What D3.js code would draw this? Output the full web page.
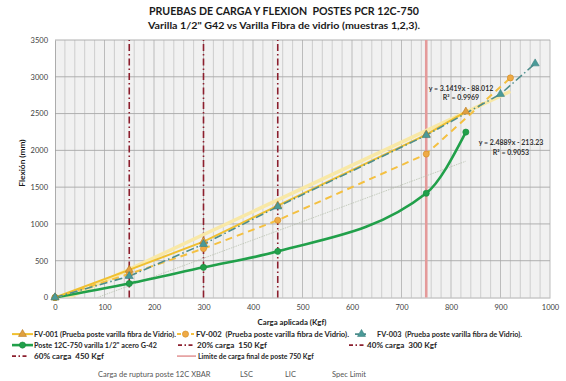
<!DOCTYPE html>
<html>
<head>
<meta charset="utf-8">
<script src="https://cdn.jsdelivr.net/npm/d3@7"></script>
<style>
	body { margin: 0; background: #fff; }
	svg { display: block; font-family: Lato, "Open Sans", sans-serif; }
	text { white-space: pre; }
</style>
</head>
<body>
<div id="chart"></div>
<script>

// load (Kgf) vs deflection (mm)
const fv001X = [ 0, 150, 300, 450, 750, 830 ];
const fv001Y = [ 0, 375, 760, 1250, 2215, 2525 ];

const fv002X = [ 0, 150, 300, 450, 750, 920 ];
const fv002Y = [ 0, 320, 665, 1050, 1950, 2985 ];

const fv003X = [ 0, 150, 300, 450, 750, 900, 970 ];
const fv003Y = [ 0, 290, 725, 1235, 2205, 2765, 3180 ];

const posteX = [ 0, 150, 300, 450, 750, 830 ];
const posteY = [ 0, 190, 410, 627, 1417, 2248 ];

const refLoads = [ 150, 300, 450 ];
const limitLoad = 750;

// trendlines as printed on the chart
const trendA = { slope: 3.1419, icpt: -88.012, x0: 0, x1: 920, eq: "y = 3.1419x - 88.012", r2: "R² = 0.9969" };
const trendB = { slope: 2.4889, icpt: -213.23, x0: 0, x1: 830, eq: "y = 2.4889x - 213.23", r2: "R² = 0.9053" };

const xTicks = [ 0, 100, 200, 300, 400, 500, 600, 700, 800, 900, 1000 ];
const yTicks = [ 0, 500, 1000, 1500, 2000, 2500, 3000, 3500 ];

const title = "PRUEBAS DE CARGA Y FLEXION  POSTES PCR 12C-750";
const subtitle = "Varilla 1/2\" G42 vs Varilla Fibra de vidrio (muestras 1,2,3).";
const xTitle = "Carga aplicada (Kgf)";
const yTitle = "Flexión (mm)";

///////////////////////////////////////////////////////////////////////

const width = 566, height = 381;
const m = { left: 55, right: 16, top: 40, bottom: 83.5 };

const svg = d3.select( "#chart" ).append( "svg" )
	.attr( "width", width )
	.attr( "height", height );

const x = d3.scaleLinear().domain( [ 0, 1000 ] ).range( [ m.left, width - m.right ] );
const y = d3.scaleLinear().domain( [ 0, 3500 ] ).range( [ height - m.bottom, m.top ] );

const zip = ( xs, ys ) => xs.map( ( v, i ) => [ v, ys[ i ] ] );

// titles
svg.append( "text" )
	.attr( "x", 284 ).attr( "y", 15 )
	.attr( "text-anchor", "middle" )
	.attr( "font-size", 11.5 ).attr( "font-weight", 700 )
	.attr( "textLength", 270 ).attr( "lengthAdjust", "spacingAndGlyphs" )
	.attr( "fill", "#1a1a1a" )
	.text( title );

svg.append( "text" )
	.attr( "x", 284 ).attr( "y", 29 )
	.attr( "text-anchor", "middle" )
	.attr( "font-size", 10 ).attr( "font-weight", 700 )
	.attr( "textLength", 272 ).attr( "lengthAdjust", "spacingAndGlyphs" )
	.attr( "fill", "#1a1a1a" )
	.text( subtitle );

// plot background + grid
svg.append( "rect" )
	.attr( "x", x( 0 ) ).attr( "y", y( 3500 ) )
	.attr( "width", x( 1000 ) - x( 0 ) ).attr( "height", y( 0 ) - y( 3500 ) )
	.attr( "fill", "#f1f1f1" );

svg.append( "g" )
	.selectAll( "line" )
	.data( d3.range( 20, 1001, 20 ) )
	.join( "line" )
		.attr( "x1", d => x( d ) ).attr( "x2", d => x( d ) )
		.attr( "y1", y( 0 ) ).attr( "y2", y( 3500 ) )
		.attr( "stroke", d => d % 100 ? "#c9c9c9" : "#b5b5b5" )
		.attr( "stroke-width", 0.9 );

svg.append( "g" )
	.selectAll( "line" )
	.data( yTicks.slice( 1 ) )
	.join( "line" )
		.attr( "x1", x( 0 ) ).attr( "x2", x( 1000 ) )
		.attr( "y1", d => y( d ) ).attr( "y2", d => y( d ) )
		.attr( "stroke", "#a8a8a8" )
		.attr( "stroke-width", 0.9 );

// axes
const xAxis = svg.append( "g" )
	.attr( "transform", "translate(0," + y( 0 ) + ")" )
	.call( d3.axisBottom( x ).tickValues( xTicks ).tickFormat( d3.format( "d" ) ).tickSize( 0 ).tickPadding( 7.5 ) );

const yAxis = svg.append( "g" )
	.attr( "transform", "translate(" + x( 0 ) + ",0)" )
	.call( d3.axisLeft( y ).tickValues( yTicks ).tickFormat( d3.format( "d" ) ).tickSize( 0 ).tickPadding( 7 ) );

for( const ax of [ xAxis, yAxis ] )	{
	ax.select( ".domain" ).attr( "stroke", "#9a9a9a" ).attr( "stroke-width", 0.8 );
	ax.selectAll( "text" )
		.attr( "font-family", "Lato, sans-serif" )
		.attr( "font-size", 7.5 )
		.attr( "fill", "#404040" );
}

svg.append( "text" )
	.attr( "x", 292 ).attr( "y", 325 )
	.attr( "text-anchor", "middle" )
	.attr( "font-size", 7.8 ).attr( "font-weight", 700 )
	.attr( "fill", "#1a1a1a" )
	.text( xTitle );

svg.append( "text" )
	.attr( "transform", "translate(25,163) rotate(-90)" )
	.attr( "text-anchor", "middle" )
	.attr( "font-size", 8.3 ).attr( "font-weight", 700 )
	.attr( "fill", "#1a1a1a" )
	.text( yTitle );

// reference lines
const refDash = "7,3,1.5,3";
svg.append( "g" )
	.selectAll( "line" )
	.data( refLoads )
	.join( "line" )
		.attr( "x1", d => x( d ) ).attr( "x2", d => x( d ) )
		.attr( "y1", y( 0 ) ).attr( "y2", y( 3500 ) )
		.attr( "stroke", "#8c1f2e" )
		.attr( "stroke-width", 1.6 )
		.attr( "stroke-dasharray", refDash );

svg.append( "line" )
	.attr( "x1", x( limitLoad ) ).attr( "x2", x( limitLoad ) )
	.attr( "y1", y( 0 ) ).attr( "y2", y( 3500 ) )
	.attr( "stroke", "#e49a9a" )
	.attr( "stroke-width", 2.6 );

// clip for trendlines
svg.append( "clipPath" ).attr( "id", "plot" )
	.append( "rect" )
	.attr( "x", x( 0 ) ).attr( "y", y( 3500 ) )
	.attr( "width", x( 1000 ) - x( 0 ) ).attr( "height", y( 0 ) - y( 3500 ) );

const line = d3.line().x( d => x( d[ 0 ] ) ).y( d => y( d[ 1 ] ) );
const trendPts = t => [ [ t.x0, t.slope * t.x0 + t.icpt ], [ t.x1, t.slope * t.x1 + t.icpt ] ];

svg.append( "path" )
	.datum( trendPts( trendA ) )
	.attr( "clip-path", "url(#plot)" )
	.attr( "d", line )
	.attr( "fill", "none" )
	.attr( "stroke", "#f8e8a6" )
	.attr( "stroke-width", 3.5 );

svg.append( "path" )
	.datum( trendPts( trendB ) )
	.attr( "clip-path", "url(#plot)" )
	.attr( "d", line )
	.attr( "fill", "none" )
	.attr( "stroke", "#b9c2b0" )
	.attr( "stroke-width", 0.8 )
	.attr( "stroke-dasharray", "1.5,1" );

// series
const series = [
	{ pts: zip( posteX, posteY ), color: "#21a04a", width: 2.6, dash: null, curve: d3.curveMonotoneX, mark: "circle", fill: "#21a04a", stroke: "#188a3c" },
	{ pts: zip( fv002X, fv002Y ), color: "#f4c041", width: 2, dash: "7,5", curve: d3.curveLinear, mark: "circle", fill: "#efaa45", stroke: "#cf8a20" },
	{ pts: zip( fv001X, fv001Y ), color: "#f0c030", width: 2, dash: null, curve: d3.curveLinear, mark: "triangle", fill: "#e0a040", stroke: "#b97a20" },
	{ pts: zip( fv003X, fv003Y ), color: "#4e8d8c", width: 1.6, dash: "8,3,1.5,3", curve: d3.curveLinear, mark: "triangle", fill: "#4a9a98", stroke: "#3a7f7d" }
];

const symTri = d3.symbol().type( d3.symbolTriangle ).size( 28 );
const symCirc = d3.symbol().type( d3.symbolCircle ).size( 30 );

for( const s of series )	{
	svg.append( "path" )
		.datum( s.pts )
		.attr( "d", line.curve( s.curve ) )
		.attr( "fill", "none" )
		.attr( "stroke", s.color )
		.attr( "stroke-width", s.width )
		.attr( "stroke-dasharray", s.dash );
	line.curve( d3.curveLinear );
}

for( const s of series )	{
	svg.append( "g" )
		.selectAll( "path" )
		.data( s.pts )
		.join( "path" )
			.attr( "transform", d => "translate(" + x( d[ 0 ] ) + "," + y( d[ 1 ] ) + ")" )
			.attr( "d", s.mark === "circle" ? symCirc : symTri )
			.attr( "fill", s.fill )
			.attr( "stroke", s.stroke )
			.attr( "stroke-width", 0.6 );
}

// trendline labels
const eqLabels = [
	{ t: trendA.eq, x: 461, y: 90.5 },
	{ t: trendA.r2, x: 461, y: 99.5 },
	{ t: trendB.eq, x: 511, y: 144.5 },
	{ t: trendB.r2, x: 511, y: 154.5 }
];
svg.append( "g" )
	.selectAll( "text" )
	.data( eqLabels )
	.join( "text" )
		.attr( "x", d => d.x ).attr( "y", d => d.y )
		.attr( "text-anchor", "middle" )
		.attr( "font-size", 7 ).attr( "font-weight", 700 )
		.attr( "fill", "#333" )
		.text( d => d.t );

// legend
const legendItems = [
	{ label: "FV-001 (Prueba poste varilla fibra de Vidrio).", x: 12, len: 21, tx: 34, w: 142, row: 0, s: 2 },
	{ label: "FV-002  (Prueba poste varilla fibra de Vidrio).", x: 177, len: 17, tx: 196, w: 153, row: 0, s: 1 },
	{ label: "FV-003  (Prueba poste varilla fibra de Vidrio).", x: 355, len: 13, tx: 377, w: 145, row: 0, s: 3 },
	{ label: "Poste 12C-750 varilla 1/2\" acero G-42", x: 12, len: 21, tx: 34, w: 123, row: 1, s: 0 },
	{ label: "20% carga  150 Kgf", x: 178, len: 15, tx: 197, w: 70, row: 1 },
	{ label: "40% carga  300 Kgf", x: 349, len: 15, tx: 367, w: 70, row: 1 },
	{ label: "60% carga  450 Kgf", x: 12, len: 15, tx: 34, w: 70, row: 2 },
	{ label: "Limite de carga final de poste 750 Kgf", x: 177, len: 19, tx: 198, row: 2, limit: true }
];
const rowY = [ 336.5, 347.5, 358.5 ];

const leg = svg.append( "g" ).attr( "font-size", 6.9 ).attr( "font-weight", 700 ).attr( "fill", "#262626" );
for( const it of legendItems )	{
	const ly = rowY[ it.row ];
	const g = leg.append( "g" );
	let stroke = "#8c1f2e", sw = 1.6, dash = "4,2.5,1.5,2.5";
	if( it.limit )	{ stroke = "#e49a9a"; sw = 1.6; dash = null; }
	if( it.s !== undefined )	{ const s = series[ it.s ]; stroke = s.color; sw = s.width; dash = s.dash ? "4,3" : null; }
	g.append( "line" )
		.attr( "x1", it.x ).attr( "x2", it.x + it.len )
		.attr( "y1", ly - 2.4 ).attr( "y2", ly - 2.4 )
		.attr( "stroke", stroke ).attr( "stroke-width", sw ).attr( "stroke-dasharray", dash );
	if( it.s !== undefined )	{
		const s = series[ it.s ];
		g.append( "path" )
			.attr( "transform", "translate(" + ( it.x + it.len / 2 ) + "," + ( ly - 2.4 ) + ")" )
			.attr( "d", s.mark === "circle" ? symCirc : symTri )
			.attr( "fill", s.fill ).attr( "stroke", s.stroke ).attr( "stroke-width", 0.6 );
	}
	const t = g.append( "text" )
		.attr( "x", it.tx )
		.attr( "y", ly )
		.text( it.label );
	if( it.w ) t.attr( "textLength", it.w ).attr( "lengthAdjust", "spacingAndGlyphs" );
}

// bottom row (entries without visible marks)
const extraLabels = [ "Carga de ruptura poste 12C XBAR", "LSC", "LIC", "Spec Limit" ];
const extraX = [ 98, 240, 285, 332 ];
svg.append( "g" )
	.selectAll( "text" )
	.data( extraLabels )
	.join( "text" )
		.attr( "x", ( d, i ) => extraX[ i ] )
		.attr( "y", 377 )
		.attr( "font-size", 7.5 )
		.attr( "fill", "#555" )
		.text( d => d );

</script>
</body>
</html>
